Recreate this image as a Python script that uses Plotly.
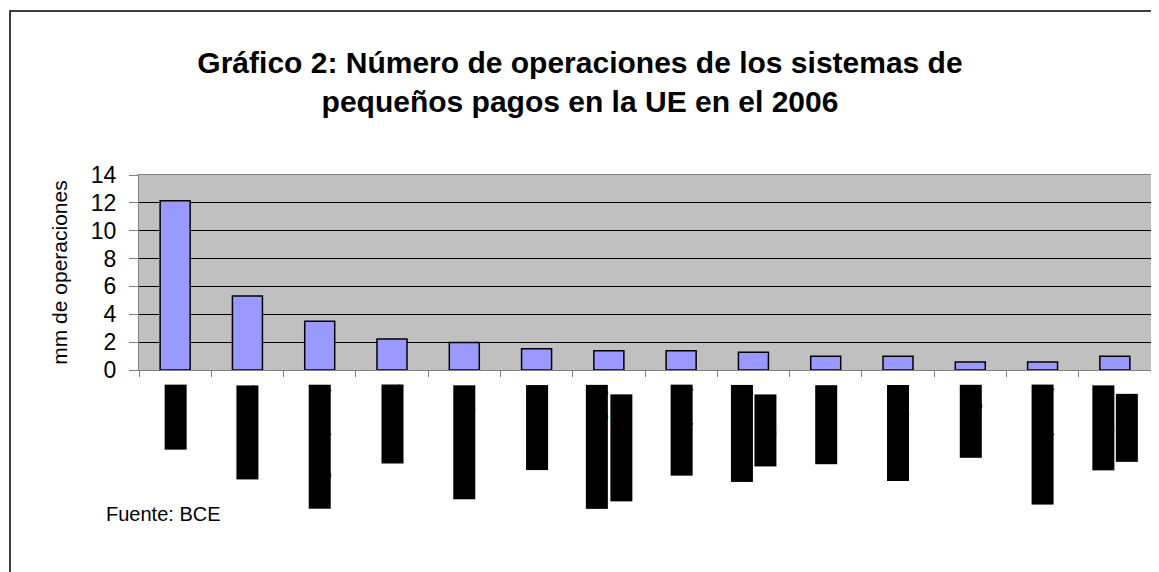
import plotly.graph_objects as go

# ---------------- data ----------------
categorias = ["Francia", "Dinamarca", "Bélgica (CEC)", "Rumanía", "Países Bajos", "Eslovenia",
              "Luxemburgo y\nReino Unido", "Italia (SIA)", "Alemania y\nBulgaria", "Finlandia",
              "Eslovaquia", "Portugal", "Suecia (BGC)", "Hungría y\nLituania"]
operaciones = [12.16, 5.32, 3.50, 2.23, 1.97, 1.53, 1.39, 1.39, 1.27, 0.98, 0.98, 0.57, 0.57, 0.98]
y_ticks = [0, 2, 4, 6, 8, 10, 12, 14]

titulo = "Gráfico 2: Número de operaciones de los sistemas de<br>pequeños pagos en la UE en el 2006"
eje_y = "mm de operaciones"
fuente = "Fuente: BCE"

# ---------------- layout geometry (screen pixels) ----------------
OFF = 8                      # page body margin of the html page
W, H = 1159 - OFF, 572 - OFF
PL, PR, PT, PB = 139, 1151, 174.5, 370   # plot area on screen
PW, PH = PR - PL, PB - PT

def px_x(px):
    return (px - PL) / PW

def px_y(py):
    return (PB - py) / PH

FONT = "Liberation Sans, Arial, sans-serif"

fig = go.Figure()
fig.add_trace(go.Bar(
    x=categorias, y=operaciones,
    marker=dict(color="#9999FF", line=dict(color="black", width=1.5)),
    hoverinfo="x+y",
))

# category labels (rendered as solid black blocks as in the source)
for cat in categorias:
    lineas = cat.split("\n")
    n = len(lineas)
    for j, linea in enumerate(lineas):
        fig.add_annotation(
            x=cat, xref="x", y=0, yref="paper",
            text=linea, textangle=-90, showarrow=False,
            xanchor="center", yanchor="top",
            xshift=(j - (n - 1) / 2) * 24,
            yshift=-15 - (9 if j > 0 else 0),
            font=dict(family=FONT, size=19.5, color="black"),
            bgcolor="black", borderpad=0, borderwidth=0,
        )

fig.add_annotation(
    x=px_x(104), xref="paper", y=px_y(514), yref="paper",
    text=fuente, showarrow=False, xanchor="left", yanchor="middle",
    font=dict(family=FONT, size=20, color="black"),
)

# outer chart border
fig.add_shape(
    type="rect", xref="paper", yref="paper",
    x0=px_x(10), x1=px_x(1157), y0=px_y(640), y1=px_y(10),
    line=dict(color="black", width=1.5), fillcolor="rgba(0,0,0,0)", layer="below",
)

fig.update_layout(
    width=W, height=H,
    margin=dict(l=PL - OFF, r=W - (PR - OFF), t=PT - OFF, b=H - (PB - OFF), pad=0),
    paper_bgcolor="white", plot_bgcolor="#C0C0C0",
    bargap=0.585, showlegend=False,
    title=dict(
        text=titulo, x=(580 - OFF) / W, xref="container", xanchor="center",
        y=1 - (73 - OFF) / H, yref="container", yanchor="top",
        font=dict(family=FONT, size=30, color="black", weight="bold"),
    ),
    font=dict(family=FONT, color="black"),
)

fig.update_xaxes(
    type="category", range=[-0.5, len(categorias) - 0.5],
    tickson="boundaries", ticks="outside", ticklen=6, tickcolor="#808080", tickwidth=1,
    showticklabels=False, showgrid=False, zeroline=False,
    showline=True, linecolor="#808080", linewidth=1, mirror=True,
)
fig.update_yaxes(
    range=[0, 14], tickvals=y_ticks, ticktext=[str(v) for v in y_ticks],
    tickfont=dict(family=FONT, size=23, color="black"),
    ticks="outside", ticklen=9, tickcolor="#808080", tickwidth=1, ticklabelstandoff=8,
    showgrid=True, gridcolor="black", gridwidth=1, zeroline=False,
    showline=True, linecolor="#808080", linewidth=1, mirror=True,
    title=dict(text=eje_y, font=dict(family=FONT, size=21, color="black"), standoff=17),
)

fig.write_html("out.html")
